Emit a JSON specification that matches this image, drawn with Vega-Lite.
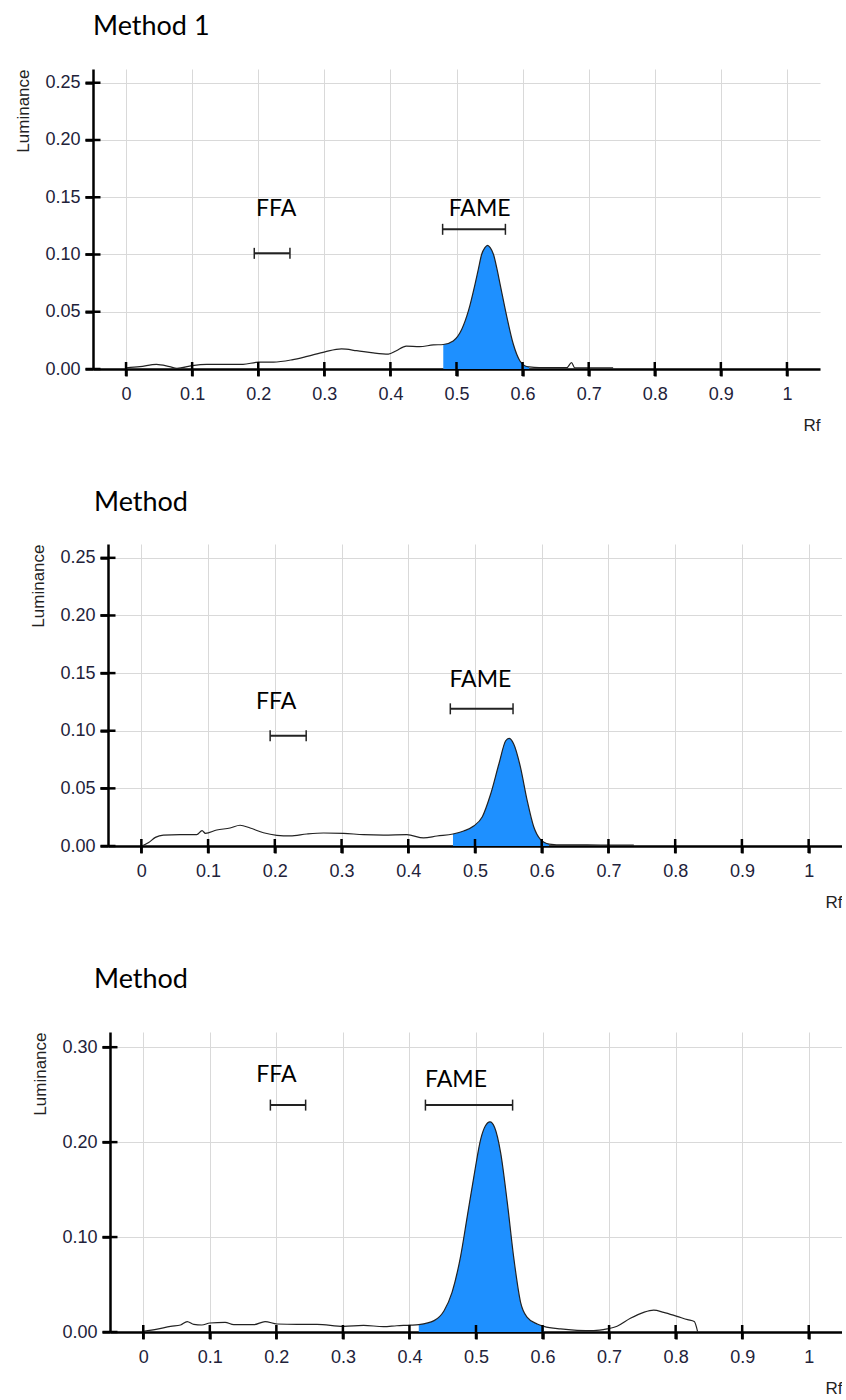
{
  "$schema": "https://vega.github.io/schema/vega-lite/v6.json",
  "background": "white",
  "padding": {"left": 13, "top": 13, "right": 0, "bottom": 0},
  "spacing": 56,
  "config": {"view": {"stroke": null}, "font": "Liberation Sans"},
  "datasets": {
    "p1": [
      {"rf": 0, "lum": 0.001}, {"rf": 0.021, "lum": 0.002}, {"rf": 0.046, "lum": 0.004}, {"rf": 0.066, "lum": 0.002},
      {"rf": 0.077, "lum": 0.0006}, {"rf": 0.1, "lum": 0.003}, {"rf": 0.122, "lum": 0.004}, {"rf": 0.152, "lum": 0.004},
      {"rf": 0.177, "lum": 0.004}, {"rf": 0.2, "lum": 0.006}, {"rf": 0.223, "lum": 0.006}, {"rf": 0.251, "lum": 0.008},
      {"rf": 0.274, "lum": 0.011}, {"rf": 0.301, "lum": 0.015}, {"rf": 0.326, "lum": 0.0175}, {"rf": 0.349, "lum": 0.016},
      {"rf": 0.374, "lum": 0.014}, {"rf": 0.397, "lum": 0.013}, {"rf": 0.409, "lum": 0.016}, {"rf": 0.424, "lum": 0.02},
      {"rf": 0.444, "lum": 0.0195}, {"rf": 0.465, "lum": 0.021}, {"rf": 0.48, "lum": 0.0214}, {"rf": 0.495, "lum": 0.0245},
      {"rf": 0.508, "lum": 0.0347}, {"rf": 0.518, "lum": 0.0507}, {"rf": 0.528, "lum": 0.074}, {"rf": 0.533, "lum": 0.087},
      {"rf": 0.538, "lum": 0.1}, {"rf": 0.543, "lum": 0.106}, {"rf": 0.547, "lum": 0.108}, {"rf": 0.551, "lum": 0.106},
      {"rf": 0.556, "lum": 0.1}, {"rf": 0.561, "lum": 0.088}, {"rf": 0.566, "lum": 0.074}, {"rf": 0.576, "lum": 0.046},
      {"rf": 0.586, "lum": 0.0216}, {"rf": 0.596, "lum": 0.007}, {"rf": 0.604, "lum": 0.0026}, {"rf": 0.61, "lum": 0.0018},
      {"rf": 0.625, "lum": 0.0012}, {"rf": 0.667, "lum": 0.0012}, {"rf": 0.674, "lum": 0.0055}, {"rf": 0.679, "lum": 0.001},
      {"rf": 0.707, "lum": 0.001}, {"rf": 0.737, "lum": 0.001}
    ],
    "p2": [
      {"rf": 0.001, "lum": 0.0}, {"rf": 0.011, "lum": 0.003}, {"rf": 0.021, "lum": 0.0075}, {"rf": 0.033, "lum": 0.0095},
      {"rf": 0.058, "lum": 0.0098}, {"rf": 0.083, "lum": 0.0098}, {"rf": 0.091, "lum": 0.0133}, {"rf": 0.096, "lum": 0.011},
      {"rf": 0.113, "lum": 0.0139}, {"rf": 0.133, "lum": 0.0156}, {"rf": 0.148, "lum": 0.018}, {"rf": 0.163, "lum": 0.0156},
      {"rf": 0.183, "lum": 0.0115}, {"rf": 0.203, "lum": 0.0093}, {"rf": 0.223, "lum": 0.0087}, {"rf": 0.248, "lum": 0.0104},
      {"rf": 0.273, "lum": 0.0113}, {"rf": 0.303, "lum": 0.011}, {"rf": 0.333, "lum": 0.0098}, {"rf": 0.363, "lum": 0.0095},
      {"rf": 0.398, "lum": 0.0098}, {"rf": 0.423, "lum": 0.007}, {"rf": 0.443, "lum": 0.0087}, {"rf": 0.467, "lum": 0.0104},
      {"rf": 0.483, "lum": 0.013}, {"rf": 0.498, "lum": 0.0173}, {"rf": 0.511, "lum": 0.0254}, {"rf": 0.523, "lum": 0.0442},
      {"rf": 0.536, "lum": 0.0716}, {"rf": 0.546, "lum": 0.0913}, {"rf": 0.551, "lum": 0.0934}, {"rf": 0.558, "lum": 0.0885},
      {"rf": 0.568, "lum": 0.0687}, {"rf": 0.578, "lum": 0.04}, {"rf": 0.588, "lum": 0.0167}, {"rf": 0.598, "lum": 0.0058},
      {"rf": 0.611, "lum": 0.0017}, {"rf": 0.633, "lum": 0.0009}, {"rf": 0.668, "lum": 0.0009}, {"rf": 0.708, "lum": 0.0008},
      {"rf": 0.738, "lum": 0.0008}
    ],
    "p3": [
      {"rf": 0, "lum": 0.0007}, {"rf": 0.021, "lum": 0.003}, {"rf": 0.041, "lum": 0.006}, {"rf": 0.056, "lum": 0.0074},
      {"rf": 0.066, "lum": 0.011}, {"rf": 0.076, "lum": 0.008}, {"rf": 0.088, "lum": 0.0074}, {"rf": 0.1, "lum": 0.0095},
      {"rf": 0.123, "lum": 0.0102}, {"rf": 0.136, "lum": 0.0077}, {"rf": 0.166, "lum": 0.0077}, {"rf": 0.183, "lum": 0.011},
      {"rf": 0.201, "lum": 0.0084}, {"rf": 0.231, "lum": 0.008}, {"rf": 0.261, "lum": 0.008}, {"rf": 0.301, "lum": 0.006},
      {"rf": 0.331, "lum": 0.007}, {"rf": 0.361, "lum": 0.0056}, {"rf": 0.381, "lum": 0.0066}, {"rf": 0.401, "lum": 0.0072},
      {"rf": 0.414, "lum": 0.0078}, {"rf": 0.437, "lum": 0.012}, {"rf": 0.452, "lum": 0.0224}, {"rf": 0.464, "lum": 0.0418},
      {"rf": 0.477, "lum": 0.0803}, {"rf": 0.487, "lum": 0.1224}, {"rf": 0.497, "lum": 0.1645}, {"rf": 0.507, "lum": 0.203},
      {"rf": 0.514, "lum": 0.217}, {"rf": 0.521, "lum": 0.2214}, {"rf": 0.528, "lum": 0.2155}, {"rf": 0.537, "lum": 0.189},
      {"rf": 0.547, "lum": 0.1365}, {"rf": 0.557, "lum": 0.0768}, {"rf": 0.567, "lum": 0.0313}, {"rf": 0.577, "lum": 0.0155},
      {"rf": 0.592, "lum": 0.0084}, {"rf": 0.602, "lum": 0.006}, {"rf": 0.627, "lum": 0.0032}, {"rf": 0.652, "lum": 0.0018},
      {"rf": 0.677, "lum": 0.0014}, {"rf": 0.697, "lum": 0.0032}, {"rf": 0.712, "lum": 0.006}, {"rf": 0.732, "lum": 0.0144},
      {"rf": 0.752, "lum": 0.0207}, {"rf": 0.767, "lum": 0.023}, {"rf": 0.782, "lum": 0.0207}, {"rf": 0.802, "lum": 0.0165},
      {"rf": 0.818, "lum": 0.013}, {"rf": 0.828, "lum": 0.011}, {"rf": 0.833, "lum": 0.0003}
    ],
    "xt": [{"rf": 0}, {"rf": 0.1}, {"rf": 0.2}, {"rf": 0.3}, {"rf": 0.4}, {"rf": 0.5}, {"rf": 0.6}, {"rf": 0.7}, {"rf": 0.8}, {"rf": 0.9}, {"rf": 1}],
    "yt12": [{"lum": 0}, {"lum": 0.05}, {"lum": 0.1}, {"lum": 0.15}, {"lum": 0.2}, {"lum": 0.25}],
    "yt3": [{"lum": 0}, {"lum": 0.1}, {"lum": 0.2}, {"lum": 0.3}],
    "ann": [
      {"panel": 1, "label": "FFA", "start": 0.194, "end": 0.248, "bar": 0.101, "tx": 0.227, "ty": 0.134},
      {"panel": 1, "label": "FAME", "start": 0.479, "end": 0.574, "bar": 0.122, "tx": 0.535, "ty": 0.134},
      {"panel": 2, "label": "FFA", "start": 0.193, "end": 0.247, "bar": 0.0957, "tx": 0.202, "ty": 0.1186},
      {"panel": 2, "label": "FAME", "start": 0.463, "end": 0.557, "bar": 0.119, "tx": 0.508, "ty": 0.1376},
      {"panel": 3, "label": "FFA", "start": 0.191, "end": 0.244, "bar": 0.239, "tx": 0.2, "ty": 0.2635},
      {"panel": 3, "label": "FAME", "start": 0.424, "end": 0.555, "bar": 0.239, "tx": 0.47, "ty": 0.258}
    ]
  },
  "vconcat": [
    {
      "spacing": 0,
      "hconcat": [
        {"width": 1, "height": 10, "data": {"values": []}, "mark": {"type": "point", "opacity": 0}},
        {
          "title": {"text": "Method 1", "anchor": "start", "frame": "group", "offset": 28, "font": "Lato", "fontSize": 27, "fontWeight": "normal", "color": "#000000"},
          "width": 727,
          "height": 300,
          "layer": [
            {
              "data": {"name": "p1"},
              "transform": [{"filter": "datum.rf >= 0.48 && datum.rf <= 0.61"}],
              "mark": {"type": "area", "color": "#1E90FF", "interpolate": "monotone"},
              "encoding": {
                "x": {"field": "rf", "type": "quantitative", "scale": {"domain": [-0.05, 1.05], "nice": false, "zero": false},
                  "axis": {"values": [0, 0.1, 0.2, 0.3, 0.4, 0.5, 0.6, 0.7, 0.8, 0.9, 1], "format": "~g", "title": "Rf", "titleAnchor": "end", "titleFont": "Liberation Sans", "titleFontSize": 17, "titleFontWeight": "normal", "titleColor": "#222222", "titlePadding": 14, "labelFont": "Liberation Sans", "labelFontSize": 18, "labelColor": "#22223a", "labelPadding": 9, "labelFlush": false, "labelOverlap": false, "tickSize": 7, "tickWidth": 2.5, "tickColor": "#000000", "domainColor": "#000000", "domainWidth": 2.5, "grid": true, "gridColor": "#d9d9d9", "gridWidth": 1}},
                "y": {"field": "lum", "type": "quantitative", "scale": {"domain": [0, 0.262], "nice": false, "zero": false},
                  "axis": {"values": [0, 0.05, 0.1, 0.15, 0.2, 0.25], "format": ".2f", "title": "Luminance", "titleAnchor": "end", "titleFont": "Liberation Sans", "titleFontSize": 17, "titleFontWeight": "normal", "titleColor": "#222222", "titlePadding": 12, "labelFont": "Liberation Sans", "labelFontSize": 18, "labelColor": "#22223a", "labelPadding": 5, "labelOverlap": false, "tickSize": 8, "tickWidth": 2.5, "tickColor": "#000000", "domainColor": "#000000", "domainWidth": 2.5, "grid": true, "gridColor": "#d9d9d9", "gridWidth": 1}}
              }
            },
            {
              "data": {"name": "p1"},
              "mark": {"type": "line", "color": "#222222", "strokeWidth": 1.2, "interpolate": "monotone"},
              "encoding": {"x": {"field": "rf", "type": "quantitative"}, "y": {"field": "lum", "type": "quantitative"}}
            },
            {
              "data": {"name": "xt"},
              "mark": {"type": "tick", "orient": "vertical", "size": 14, "thickness": 2.5, "color": "#000000", "opacity": 1},
              "encoding": {"x": {"field": "rf", "type": "quantitative"}, "y": {"datum": 0, "type": "quantitative"}}
            },
            {
              "data": {"name": "yt12"},
              "mark": {"type": "tick", "orient": "horizontal", "size": 15, "thickness": 2.5, "color": "#000000", "opacity": 1},
              "encoding": {"y": {"field": "lum", "type": "quantitative"}, "x": {"datum": -0.05, "type": "quantitative"}}
            },
            {
              "data": {"name": "ann"},
              "transform": [{"filter": "datum.panel == 1"}],
              "layer": [
                {"mark": {"type": "rule", "color": "#222222", "strokeWidth": 2},
                 "encoding": {"x": {"field": "start", "type": "quantitative"}, "x2": {"field": "end"}, "y": {"field": "bar", "type": "quantitative"}}},
                {"mark": {"type": "tick", "orient": "vertical", "size": 11, "thickness": 1.5, "color": "#222222", "opacity": 1},
                 "encoding": {"x": {"field": "start", "type": "quantitative"}, "y": {"field": "bar", "type": "quantitative"}}},
                {"mark": {"type": "tick", "orient": "vertical", "size": 11, "thickness": 1.5, "color": "#222222", "opacity": 1},
                 "encoding": {"x": {"field": "end", "type": "quantitative"}, "y": {"field": "bar", "type": "quantitative"}}},
                {"mark": {"type": "text", "font": "Lato", "fontSize": 23, "baseline": "alphabetic", "align": "center", "color": "#000000"},
                 "encoding": {"x": {"field": "tx", "type": "quantitative"}, "y": {"field": "ty", "type": "quantitative"}, "text": {"field": "label"}}}
              ]
            }
          ]
        }
      ]
    },
    {
      "spacing": 0,
      "hconcat": [
        {"width": 16, "height": 10, "data": {"values": []}, "mark": {"type": "point", "opacity": 0}},
        {
          "title": {"text": "Method", "anchor": "start", "frame": "group", "offset": 27, "dx": -14, "font": "Lato", "fontSize": 27, "fontWeight": "normal", "color": "#000000"},
          "width": 734,
          "height": 302,
          "layer": [
            {
              "data": {"name": "p2"},
              "transform": [{"filter": "datum.rf >= 0.467 && datum.rf <= 0.611"}],
              "mark": {"type": "area", "color": "#1E90FF", "interpolate": "monotone"},
              "encoding": {
                "x": {"field": "rf", "type": "quantitative", "scale": {"domain": [-0.05, 1.05], "nice": false, "zero": false},
                  "axis": {"values": [0, 0.1, 0.2, 0.3, 0.4, 0.5, 0.6, 0.7, 0.8, 0.9, 1], "format": "~g", "title": "Rf", "titleAnchor": "end", "titleFont": "Liberation Sans", "titleFontSize": 17, "titleFontWeight": "normal", "titleColor": "#222222", "titlePadding": 14, "labelFont": "Liberation Sans", "labelFontSize": 18, "labelColor": "#22223a", "labelPadding": 9, "labelFlush": false, "labelOverlap": false, "tickSize": 7, "tickWidth": 2.5, "tickColor": "#000000", "domainColor": "#000000", "domainWidth": 2.5, "grid": true, "gridColor": "#d9d9d9", "gridWidth": 1}},
                "y": {"field": "lum", "type": "quantitative", "scale": {"domain": [0, 0.262], "nice": false, "zero": false},
                  "axis": {"values": [0, 0.05, 0.1, 0.15, 0.2, 0.25], "format": ".2f", "title": "Luminance", "titleAnchor": "end", "titleFont": "Liberation Sans", "titleFontSize": 17, "titleFontWeight": "normal", "titleColor": "#222222", "titlePadding": 12, "labelFont": "Liberation Sans", "labelFontSize": 18, "labelColor": "#22223a", "labelPadding": 5, "labelOverlap": false, "tickSize": 8, "tickWidth": 2.5, "tickColor": "#000000", "domainColor": "#000000", "domainWidth": 2.5, "grid": true, "gridColor": "#d9d9d9", "gridWidth": 1}}
              }
            },
            {
              "data": {"name": "p2"},
              "mark": {"type": "line", "color": "#222222", "strokeWidth": 1.2, "interpolate": "monotone"},
              "encoding": {"x": {"field": "rf", "type": "quantitative"}, "y": {"field": "lum", "type": "quantitative"}}
            },
            {
              "data": {"name": "xt"},
              "mark": {"type": "tick", "orient": "vertical", "size": 14, "thickness": 2.5, "color": "#000000", "opacity": 1},
              "encoding": {"x": {"field": "rf", "type": "quantitative"}, "y": {"datum": 0, "type": "quantitative"}}
            },
            {
              "data": {"name": "yt12"},
              "mark": {"type": "tick", "orient": "horizontal", "size": 15, "thickness": 2.5, "color": "#000000", "opacity": 1},
              "encoding": {"y": {"field": "lum", "type": "quantitative"}, "x": {"datum": -0.05, "type": "quantitative"}}
            },
            {
              "data": {"name": "ann"},
              "transform": [{"filter": "datum.panel == 2"}],
              "layer": [
                {"mark": {"type": "rule", "color": "#222222", "strokeWidth": 2},
                 "encoding": {"x": {"field": "start", "type": "quantitative"}, "x2": {"field": "end"}, "y": {"field": "bar", "type": "quantitative"}}},
                {"mark": {"type": "tick", "orient": "vertical", "size": 11, "thickness": 1.5, "color": "#222222", "opacity": 1},
                 "encoding": {"x": {"field": "start", "type": "quantitative"}, "y": {"field": "bar", "type": "quantitative"}}},
                {"mark": {"type": "tick", "orient": "vertical", "size": 11, "thickness": 1.5, "color": "#222222", "opacity": 1},
                 "encoding": {"x": {"field": "end", "type": "quantitative"}, "y": {"field": "bar", "type": "quantitative"}}},
                {"mark": {"type": "text", "font": "Lato", "fontSize": 23, "baseline": "alphabetic", "align": "center", "color": "#000000"},
                 "encoding": {"x": {"field": "tx", "type": "quantitative"}, "y": {"field": "ty", "type": "quantitative"}, "text": {"field": "label"}}}
              ]
            }
          ]
        }
      ]
    },
    {
      "spacing": 0,
      "hconcat": [
        {"width": 18, "height": 10, "data": {"values": []}, "mark": {"type": "point", "opacity": 0}},
        {
          "title": {"text": "Method", "anchor": "start", "frame": "group", "offset": 38, "dx": -16, "font": "Lato", "fontSize": 27, "fontWeight": "normal", "color": "#000000"},
          "width": 732,
          "height": 300,
          "layer": [
            {
              "data": {"name": "p3"},
              "transform": [{"filter": "datum.rf >= 0.414 && datum.rf <= 0.602"}],
              "mark": {"type": "area", "color": "#1E90FF", "interpolate": "monotone"},
              "encoding": {
                "x": {"field": "rf", "type": "quantitative", "scale": {"domain": [-0.05, 1.05], "nice": false, "zero": false},
                  "axis": {"values": [0, 0.1, 0.2, 0.3, 0.4, 0.5, 0.6, 0.7, 0.8, 0.9, 1], "format": "~g", "title": "Rf", "titleAnchor": "end", "titleFont": "Liberation Sans", "titleFontSize": 17, "titleFontWeight": "normal", "titleColor": "#222222", "titlePadding": 14, "labelFont": "Liberation Sans", "labelFontSize": 18, "labelColor": "#22223a", "labelPadding": 9, "labelFlush": false, "labelOverlap": false, "tickSize": 7, "tickWidth": 2.5, "tickColor": "#000000", "domainColor": "#000000", "domainWidth": 2.5, "grid": true, "gridColor": "#d9d9d9", "gridWidth": 1}},
                "y": {"field": "lum", "type": "quantitative", "scale": {"domain": [0, 0.316], "nice": false, "zero": false},
                  "axis": {"values": [0, 0.1, 0.2, 0.3], "format": ".2f", "title": "Luminance", "titleAnchor": "end", "titleFont": "Liberation Sans", "titleFontSize": 17, "titleFontWeight": "normal", "titleColor": "#222222", "titlePadding": 12, "labelFont": "Liberation Sans", "labelFontSize": 18, "labelColor": "#22223a", "labelPadding": 5, "labelOverlap": false, "tickSize": 8, "tickWidth": 2.5, "tickColor": "#000000", "domainColor": "#000000", "domainWidth": 2.5, "grid": true, "gridColor": "#d9d9d9", "gridWidth": 1}}
              }
            },
            {
              "data": {"name": "p3"},
              "mark": {"type": "line", "color": "#222222", "strokeWidth": 1.2, "interpolate": "monotone"},
              "encoding": {"x": {"field": "rf", "type": "quantitative"}, "y": {"field": "lum", "type": "quantitative"}}
            },
            {
              "data": {"name": "xt"},
              "mark": {"type": "tick", "orient": "vertical", "size": 14, "thickness": 2.5, "color": "#000000", "opacity": 1},
              "encoding": {"x": {"field": "rf", "type": "quantitative"}, "y": {"datum": 0, "type": "quantitative"}}
            },
            {
              "data": {"name": "yt3"},
              "mark": {"type": "tick", "orient": "horizontal", "size": 15, "thickness": 2.5, "color": "#000000", "opacity": 1},
              "encoding": {"y": {"field": "lum", "type": "quantitative"}, "x": {"datum": -0.05, "type": "quantitative"}}
            },
            {
              "data": {"name": "ann"},
              "transform": [{"filter": "datum.panel == 3"}],
              "layer": [
                {"mark": {"type": "rule", "color": "#222222", "strokeWidth": 2},
                 "encoding": {"x": {"field": "start", "type": "quantitative"}, "x2": {"field": "end"}, "y": {"field": "bar", "type": "quantitative"}}},
                {"mark": {"type": "tick", "orient": "vertical", "size": 11, "thickness": 1.5, "color": "#222222", "opacity": 1},
                 "encoding": {"x": {"field": "start", "type": "quantitative"}, "y": {"field": "bar", "type": "quantitative"}}},
                {"mark": {"type": "tick", "orient": "vertical", "size": 11, "thickness": 1.5, "color": "#222222", "opacity": 1},
                 "encoding": {"x": {"field": "end", "type": "quantitative"}, "y": {"field": "bar", "type": "quantitative"}}},
                {"mark": {"type": "text", "font": "Lato", "fontSize": 23, "baseline": "alphabetic", "align": "center", "color": "#000000"},
                 "encoding": {"x": {"field": "tx", "type": "quantitative"}, "y": {"field": "ty", "type": "quantitative"}, "text": {"field": "label"}}}
              ]
            }
          ]
        }
      ]
    }
  ]
}
